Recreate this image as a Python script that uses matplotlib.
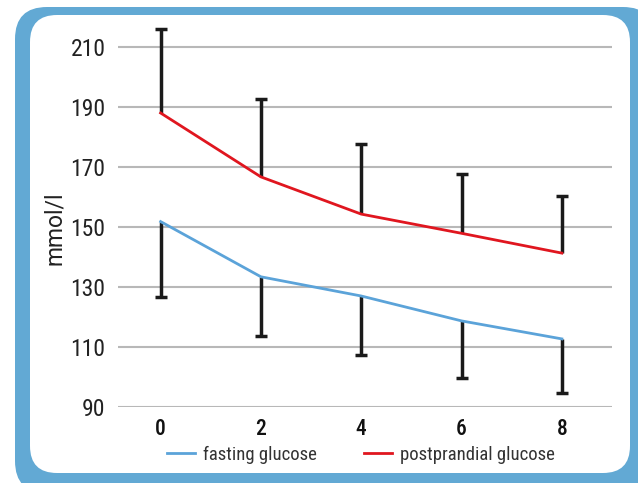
import matplotlib
matplotlib.use('Agg')
import matplotlib.pyplot as plt
from matplotlib.patches import FancyBboxPatch
from matplotlib.transforms import Affine2D

# weeks on therapy
weeks = [0, 2, 4, 6, 8]
fasting = [151.8, 133.4, 127.0, 118.7, 112.7]
fasting_low = [126.8, 113.7, 107.3, 99.6, 94.7]
postprandial = [188.0, 166.7, 154.3, 147.9, 141.3]
postprandial_high = [216.0, 192.7, 177.7, 167.7, 160.3]
yticks = [90, 110, 130, 150, 170, 190, 210]

plt.rcParams['font.family'] = ['Roboto Condensed', 'DejaVu Sans']

W, H = 638, 483
fig = plt.figure(figsize=(W / 100, H / 100), dpi=100)
px = Affine2D().scale(1 / W, 1 / H) + fig.transFigure

# rounded blue frame
outer = FancyBboxPatch((15, -10), 640, 486, boxstyle='round,pad=0,rounding_size=32',
                       facecolor='#62a9d4', edgecolor='none', transform=px, zorder=-2)
inner = FancyBboxPatch((30, 10), 600, 458, boxstyle='round,pad=0,rounding_size=27',
                       facecolor='white', edgecolor='none', transform=px, zorder=-1)
fig.patches.extend([outer, inner])

ax = fig.add_axes([118 / W, 1 - 407 / H, (612 - 118) / W, (407 - 26) / H])
ax.set_facecolor('none')

blue = '#5ba3d9'
red = '#e0161f'
dark = '#1a1a1a'

# one-sided error bars: lower for fasting, upper for postprandial
ax.vlines(weeks, fasting_low, fasting, color=dark, linewidth=2.5, zorder=3)
ax.vlines(weeks, postprandial, postprandial_high, color=dark, linewidth=2.5, zorder=3)
ax.plot(weeks, fasting_low, linestyle='none', marker='_', markersize=8, mew=2.5, color=dark, zorder=3)
ax.plot(weeks, postprandial_high, linestyle='none', marker='_', markersize=8, mew=2.5, color=dark, zorder=3)

ax.plot(weeks, fasting, color=blue, linewidth=2, label='fasting glucose', zorder=4)
ax.plot(weeks, postprandial, color=red, linewidth=2, label='postprandial glucose', zorder=4)

ax.set_xlim(-0.85, 9.0)
ax.set_ylim(90, 217)
ax.set_yticks(yticks)
ax.set_xticks(weeks)
ax.grid(axis='y', color='#b8b8b8', linewidth=1.5)
ax.set_axisbelow(True)
for s in ax.spines.values():
    s.set_visible(False)
ax.tick_params(axis='both', length=0)
ax.tick_params(axis='y', labelsize=17, pad=9, labelcolor='#222222')
ax.tick_params(axis='x', labelsize=15.5, pad=8, labelcolor='#111111')
for lab in ax.get_xticklabels():
    lab.set_fontweight('medium')

fig.text(54 / W, 1 - 228 / H, 'mmol/l', rotation=90, fontsize=16.5, ha='center', va='center',
         color='#222222', family=['Roboto', 'DejaVu Sans'])

fig.legend(loc='center', bbox_to_anchor=(361 / W, 1 - 455 / H), ncol=2, frameon=False,
           fontsize=13.5, handlelength=1.5, handletextpad=0.45, columnspacing=2.5,
           labelcolor='#333333')

fig.savefig('out.png', dpi=100)
